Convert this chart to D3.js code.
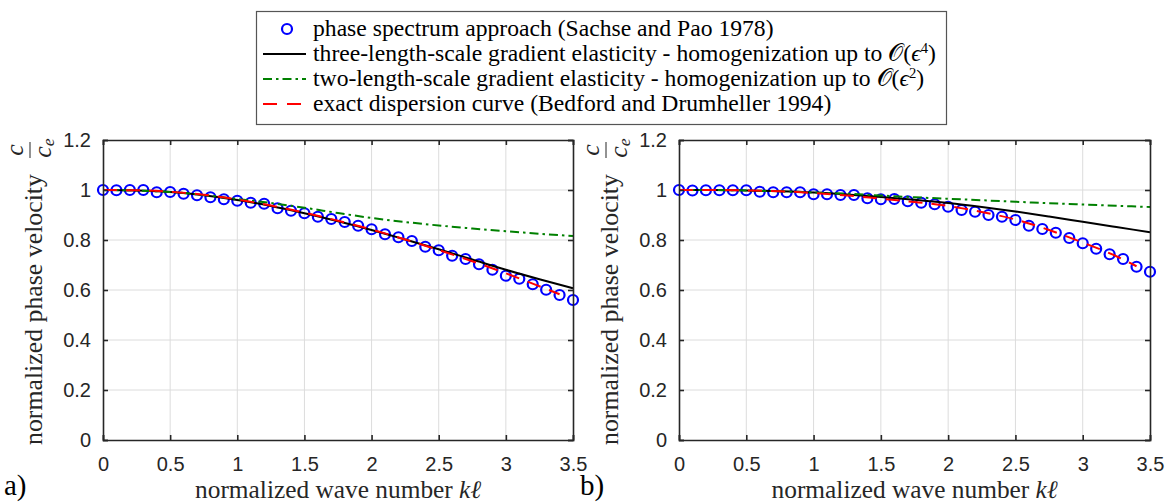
<!DOCTYPE html>
<html><head><meta charset="utf-8">
<script src="https://cdn.jsdelivr.net/npm/d3@7"></script>
<style>
body{margin:0;background:#fff;}
svg{display:block;}
</style></head>
<body>
<svg id="c" width="1170" height="503"></svg>
<script>
// ---- data ----
const xTicks = [0, 0.5, 1, 1.5, 2, 2.5, 3, 3.5];
const yTicks = [0, 0.2, 0.4, 0.6, 0.8, 1, 1.2];
const xTickLabels = ["0", "0.5", "1", "1.5", "2", "2.5", "3", "3.5"];
const yTickLabels = ["0", "0.2", "0.4", "0.6", "0.8", "1", "1.2"];

const kCircles = [0,0.1,0.2,0.3,0.4,0.5,0.6,0.7,0.8,0.9,1.0,1.1,1.2,1.3,1.4,1.5,1.6,1.7,1.8,1.9,2.0,2.1,2.2,2.3,2.4,2.5,2.6,2.7,2.8,2.9,3.0,3.1,3.2,3.3,3.4,3.5];
const kLine = [0,0.25,0.5,0.75,1.0,1.25,1.5,1.75,2.0,2.25,2.5,2.75,3.0,3.25,3.5];
const kExact = [0,0.25,0.5,0.75,1.0,1.25,1.5,1.75,2.0,2.25,2.5,2.75,3.0,3.25,3.4];

// panel a
const circlesA = [1.0,0.999,1.0,1.0,0.991,0.992,0.985,0.979,0.971,0.963,0.957,0.949,0.945,0.927,0.917,0.907,0.893,0.884,0.872,0.857,0.843,0.823,0.811,0.796,0.773,0.759,0.737,0.724,0.703,0.681,0.657,0.645,0.623,0.601,0.58,0.56];
const threeScaleA = [1.0,0.998,0.992,0.979,0.96,0.936,0.907,0.875,0.84,0.802,0.763,0.722,0.681,0.643,0.607];
const twoScaleA = [1.0,0.998,0.992,0.98,0.964,0.948,0.929,0.908,0.888,0.872,0.858,0.846,0.835,0.825,0.816];
const exactA = [1.0,0.999,0.993,0.981,0.962,0.938,0.909,0.877,0.842,0.802,0.76,0.715,0.667,0.615,0.583];

// panel b
const circlesB = [1.0,0.998,0.999,0.999,0.999,0.999,0.993,0.991,0.991,0.991,0.983,0.983,0.98,0.98,0.967,0.963,0.964,0.955,0.949,0.943,0.933,0.92,0.913,0.9,0.893,0.88,0.857,0.844,0.829,0.808,0.787,0.765,0.743,0.724,0.693,0.673];
const threeScaleB = [1.0,1.0,0.998,0.995,0.99,0.982,0.972,0.961,0.948,0.932,0.914,0.894,0.873,0.852,0.831];
const twoScaleB = [1.0,1.0,0.998,0.995,0.99,0.985,0.978,0.971,0.965,0.959,0.953,0.947,0.942,0.937,0.932];
const exactB = [1.0,1.0,0.998,0.995,0.988,0.978,0.965,0.952,0.936,0.912,0.882,0.84,0.79,0.735,0.695];

const legendLabels = [
  "phase spectrum approach (Sachse and Pao 1978)",
  "three-length-scale gradient elasticity - homogenization up to ",
  "two-length-scale gradient elasticity - homogenization up to ",
  "exact dispersion curve (Bedford and Drumheller 1994)"
];
const legendOrders = [null, "4", "2", null];
const panelLetters = ["a)", "b)"];

// ---- style ----
const SERIF = "Liberation Serif";
const SANS = "Liberation Sans";
const AX = "#262626";
const BLUE = "#0000ff", BLACK = "#000000", GREEN = "#008000", RED = "#ff0000";

const svg = d3.select("#c");

// font size giving a target rendered width (measured at a base size)
function fitSize(sel, target, base) {
  const len = sel.node().getComputedTextLength();
  const fs = base * target / len;
  sel.attr("font-size", fs.toFixed(2));
  return fs;
}

function panel(cfg) {
  const x = d3.scaleLinear().domain([0, 3.5]).range([cfg.x0, cfg.x1]);
  const y = d3.scaleLinear().domain([0, 1.2]).range([440, 140]);
  const g = svg.append("g");

  // grid
  g.append("g").selectAll("line").data(xTicks.slice(1, -1)).join("line")
    .attr("x1", d => x(d)).attr("x2", d => x(d)).attr("y1", y(0)).attr("y2", y(1.2))
    .attr("stroke", "#dcdcdc").attr("stroke-width", 1);
  g.append("g").selectAll("line").data(yTicks.slice(1, -1)).join("line")
    .attr("y1", d => y(d)).attr("y2", d => y(d)).attr("x1", x(0)).attr("x2", x(3.5))
    .attr("stroke", "#dcdcdc").attr("stroke-width", 1);

  const data = cfg.data;
  const dg = g.append("g");
  dg.selectAll("circle").data(kCircles.map((k, i) => [k, data.circles[i]])).join("circle")
    .attr("cx", d => x(d[0])).attr("cy", d => y(d[1])).attr("r", 5)
    .attr("fill", "none").attr("stroke", BLUE).attr("stroke-width", 2.2);

  const line = d3.line().x(d => x(d[0])).y(d => y(d[1])).curve(d3.curveMonotoneX);
  dg.append("path").datum(kLine.map((k, i) => [k, data.three[i]])).attr("d", line)
    .attr("fill", "none").attr("stroke", BLACK).attr("stroke-width", 2);
  dg.append("path").datum(kLine.map((k, i) => [k, data.two[i]])).attr("d", line)
    .attr("fill", "none").attr("stroke", GREEN).attr("stroke-width", 2).attr("stroke-dasharray", "9,4,2.5,4");
  dg.append("path").datum(kExact.map((k, i) => [k, data.exact[i]])).attr("d", line)
    .attr("fill", "none").attr("stroke", RED).attr("stroke-width", 2).attr("stroke-dasharray", "14,9");

  // axes (box with inward ticks)
  const axB = d3.axisBottom(x).tickValues(xTicks).tickSize(-5).tickPadding(17).tickFormat((d, i) => xTickLabels[i]);
  const axT = d3.axisTop(x).tickValues(xTicks).tickSize(-5).tickFormat("");
  const axL = d3.axisLeft(y).tickValues(yTicks).tickSize(-5).tickPadding(12).tickFormat((d, i) => yTickLabels[i]);
  const axR = d3.axisRight(y).tickValues(yTicks).tickSize(-5).tickFormat("");
  const styleAx = s => {
    s.attr("font-family", SANS).attr("font-size", 20);
    s.select(".domain").attr("stroke", AX).attr("stroke-width", 1.6);
    s.selectAll(".tick line").attr("stroke", AX).attr("stroke-width", 1.6);
    s.selectAll(".tick text").attr("fill", AX);
  };
  g.append("g").attr("transform", `translate(0,${y(0)})`).call(axB).call(styleAx);
  g.append("g").attr("transform", `translate(0,${y(1.2)})`).call(axT).call(styleAx);
  g.append("g").attr("transform", `translate(${x(0)},0)`).call(axL).call(styleAx);
  g.append("g").attr("transform", `translate(${x(3.5)},0)`).call(axR).call(styleAx);

  // x label
  const xl = g.append("text").attr("x", (x(0) + x(3.5)) / 2).attr("y", 498).attr("text-anchor", "middle")
    .attr("font-family", SERIF).attr("font-size", 20).attr("fill", AX);
  xl.append("tspan").text("normalized wave number ");
  xl.append("tspan").attr("font-style", "italic").text("kℓ");
  fitSize(xl, 286, 20);

  // y label (rotated)
  const yg = g.append("g").attr("transform", `translate(${cfg.x0 - 103},0) rotate(-90)`);
  const yl = yg.append("text").attr("x", -445).attr("y", 42).attr("text-anchor", "start")
    .attr("font-family", SERIF).attr("font-size", 20).attr("fill", AX).text("normalized phase velocity");
  const yfs = fitSize(yl, 271, 20);
  // fraction c / c_e
  yg.append("text").attr("x", -150).attr("y", 23).attr("text-anchor", "middle")
    .attr("font-family", SERIF).attr("font-style", "italic").attr("font-size", yfs).attr("fill", AX).text("c");
  yg.append("line").attr("x1", -158).attr("x2", -142).attr("y1", 30).attr("y2", 30).attr("stroke", AX).attr("stroke-width", 1);
  const den = yg.append("text").attr("x", -148).attr("y", 51).attr("text-anchor", "middle")
    .attr("font-family", SERIF).attr("font-style", "italic").attr("font-size", yfs).attr("fill", AX);
  den.append("tspan").text("c");
  den.append("tspan").attr("dy", 3).attr("font-size", yfs * 0.68).text("e");

  // panel letter
  g.append("text").attr("x", cfg.x0 - 99).attr("y", 495)
    .attr("font-family", SERIF).attr("font-size", 29).attr("fill", "#000").text(cfg.letter);
}

panel({id: "a", x0: 103, x1: 573, letter: panelLetters[0],
  data: {circles: circlesA, three: threeScaleA, two: twoScaleA, exact: exactA}});
panel({id: "b", x0: 679, x1: 1150, letter: panelLetters[1],
  data: {circles: circlesB, three: threeScaleB, two: twoScaleB, exact: exactB}});

// ---- legend ----
const lg = svg.append("g");
lg.append("rect").attr("x", 256.5).attr("y", 11.5).attr("width", 690).attr("height", 113)
  .attr("fill", "#fff").attr("stroke", "#555").attr("stroke-width", 1.2);
const rowY = [29, 54, 79, 104];
const sym = [
  {type: "circle"},
  {type: "line", color: BLACK, dash: null},
  {type: "line", color: GREEN, dash: "9,4,2.5,4"},
  {type: "line", color: RED, dash: "14,10"}
];
const rows = [];
sym.forEach((s, i) => {
  if (s.type === "circle") {
    lg.append("circle").attr("cx", 287).attr("cy", rowY[i]).attr("r", 5)
      .attr("fill", "none").attr("stroke", BLUE).attr("stroke-width", 2.2);
  } else {
    lg.append("line").attr("x1", 263).attr("x2", 306).attr("y1", rowY[i]).attr("y2", rowY[i])
      .attr("stroke", s.color).attr("stroke-width", 2).attr("stroke-dasharray", s.dash);
  }
  const t = lg.append("text").attr("x", 313).attr("y", rowY[i] + 7)
    .attr("font-family", SERIF).attr("font-size", 20).attr("fill", "#000");
  t.append("tspan").text(legendLabels[i]);
  if (legendOrders[i]) {
    t.append("tspan").text("(").attr("class", "cal").text("𝒪(");
    t.append("tspan").attr("font-style", "italic").text("ϵ");
    t.append("tspan").attr("class", "sup").attr("dy", -7).attr("font-size", 13).text(legendOrders[i]);
    t.append("tspan").attr("class", "close").attr("dy", 7).text(")");
  }
  rows.push(t);
});
// the widest row (three-length-scale) spans up to just inside the box
const lfs = fitSize(rows[1], 624, 20);
rows.forEach(t => t.attr("font-size", lfs.toFixed(2)));
lg.selectAll("tspan.sup").attr("font-size", (lfs * 0.62).toFixed(2)).attr("dy", (-lfs * 0.34).toFixed(2));
lg.selectAll("tspan.close").attr("dy", (lfs * 0.34).toFixed(2));
</script>
</body></html>
